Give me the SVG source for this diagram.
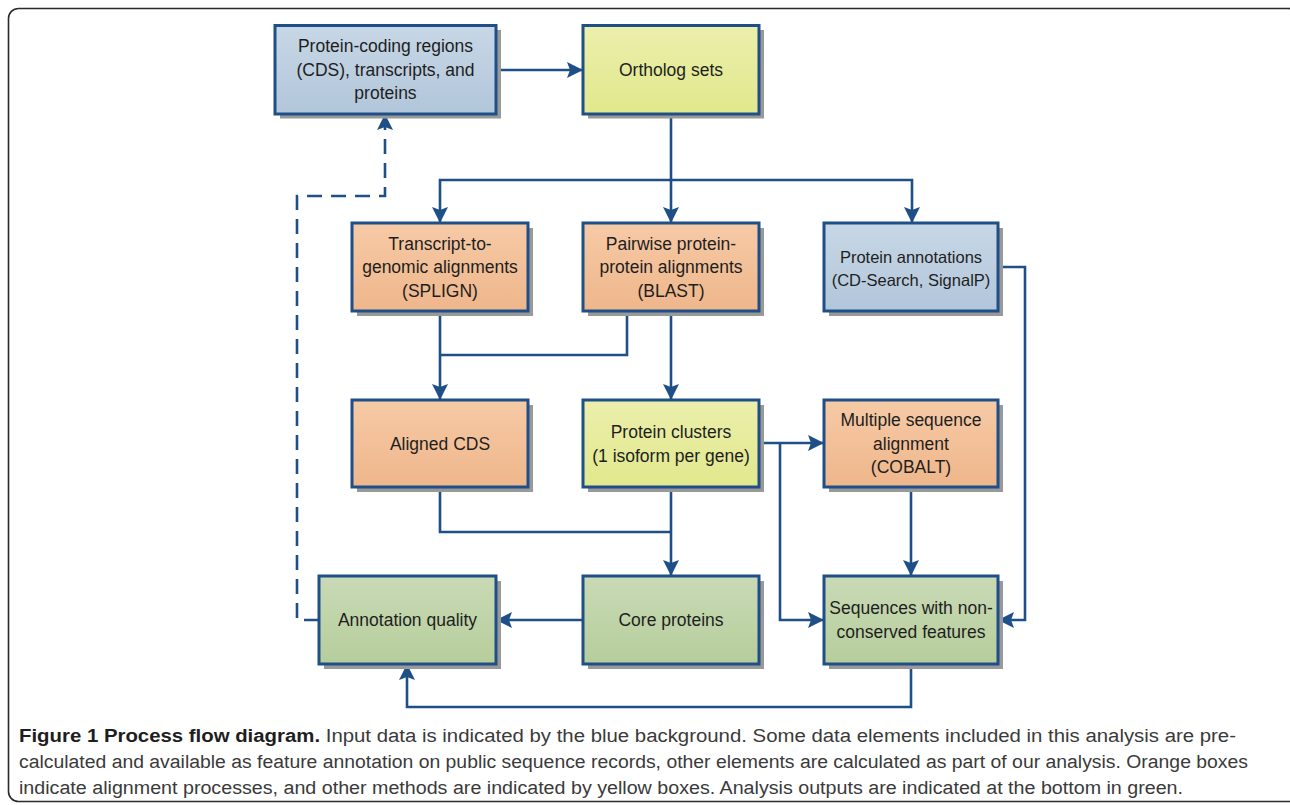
<svg xmlns="http://www.w3.org/2000/svg" width="1290" height="805" viewBox="0 0 1290 805">
<defs>
<linearGradient id="gBlue" x1="0" y1="0" x2="0" y2="1"><stop offset="0" stop-color="#c7d7e6"/><stop offset="1" stop-color="#b2c6da"/></linearGradient>
<linearGradient id="gYellow" x1="0" y1="0" x2="0" y2="1"><stop offset="0" stop-color="#ebefac"/><stop offset="1" stop-color="#e1e88c"/></linearGradient>
<linearGradient id="gOrange" x1="0" y1="0" x2="0" y2="1"><stop offset="0" stop-color="#f6caa6"/><stop offset="1" stop-color="#efb68b"/></linearGradient>
<linearGradient id="gGreen" x1="0" y1="0" x2="0" y2="1"><stop offset="0" stop-color="#c9dab6"/><stop offset="1" stop-color="#b6cd9b"/></linearGradient>
<marker id="ah" viewBox="0 0 16 16" refX="16" refY="8" markerWidth="16" markerHeight="16" orient="auto" markerUnits="userSpaceOnUse"><path d="M0,0 L16,8 L0,16 L3,8 z" fill="#1f4f87"/></marker>
</defs>
<style>
.box{stroke:#1f4f87;stroke-width:3}
.sh{fill:#999999}
.blue{fill:url(#gBlue)}
.yellow{fill:url(#gYellow)}
.orange{fill:url(#gOrange)}
.green{fill:url(#gGreen)}
.t{font-family:"Liberation Sans",Arial,sans-serif;font-size:17.5px;fill:#1e1e1e;text-anchor:middle}
.c{fill:none;stroke:#1f4f87;stroke-width:2.6}
.a{marker-end:url(#ah)}
.d{stroke-dasharray:15 9}
.cap{font-family:"Liberation Sans",Arial,sans-serif;font-size:18px;fill:#3a3a3a}
.capb{font-weight:bold;fill:#1e1e1e}
</style>
<rect x="8.5" y="8.5" width="1290" height="793" rx="10" fill="#ffffff" stroke="#2b2b2b" stroke-width="1.6"/>

<g id="connectors">
<path class="c a" d="M496,70 H583"/>
<path class="c a" d="M671,114 V223"/>
<path class="c a" d="M671,180 H440 V223"/>
<path class="c a" d="M671,180 H912 V223"/>
<path class="c a" d="M440,311 V400"/>
<path class="c" d="M627,311 V355 H440"/>
<path class="c a" d="M671,311 V400"/>
<path class="c a" d="M759,443 H824"/>
<path class="c a" d="M780,443 V620 H824"/>
<path class="c a" d="M998,267 H1025 V620 H998"/>
<path class="c a" d="M911,487 V576"/>
<path class="c" d="M440,487 V532 H671"/>
<path class="c a" d="M671,487 V576"/>
<path class="c a" d="M583,620 H496"/>
<path class="c a" d="M911,664 V707 H407 V664"/>
<path class="c a d" d="M319,620 H297 V196 H385 V114"/>
</g>

<g id="n-cds">
<rect class="sh" x="280" y="30" width="221" height="88.5"/>
<rect class="box blue" x="275" y="25.5" width="221" height="88.5"/>
<text class="t" x="385.5" y="52">Protein-coding regions</text>
<text class="t" x="385.5" y="75.5">(CDS), transcripts, and</text>
<text class="t" x="385.5" y="99">proteins</text>
</g>
<g id="n-ortholog">
<rect class="sh" x="588" y="30" width="176" height="88.5"/>
<rect class="box yellow" x="583" y="25.5" width="176" height="88.5"/>
<text class="t" x="671" y="76">Ortholog sets</text>
</g>
<g id="n-splign">
<rect class="sh" x="357" y="228" width="176" height="88"/>
<rect class="box orange" x="352" y="223" width="176" height="88"/>
<text class="t" x="440" y="249.5">Transcript-to-</text>
<text class="t" x="440" y="273">genomic alignments</text>
<text class="t" x="440" y="296.5">(SPLIGN)</text>
</g>
<g id="n-blast">
<rect class="sh" x="588" y="228" width="176" height="88"/>
<rect class="box orange" x="583" y="223" width="176" height="88"/>
<text class="t" x="671" y="249.5">Pairwise protein-</text>
<text class="t" x="671" y="273">protein alignments</text>
<text class="t" x="671" y="296.5">(BLAST)</text>
</g>
<g id="n-annot">
<rect class="sh" x="829" y="228" width="174" height="88"/>
<rect class="box blue" x="824" y="223" width="174" height="88"/>
<text class="t" x="911" y="262.5" style="font-size:16.5px">Protein annotations</text>
<text class="t" x="911" y="286" style="font-size:16.5px">(CD-Search, SignalP)</text>
</g>
<g id="n-alignedcds">
<rect class="sh" x="357" y="405" width="176" height="87"/>
<rect class="box orange" x="352" y="400" width="176" height="87"/>
<text class="t" x="440" y="449.5">Aligned CDS</text>
</g>
<g id="n-clusters">
<rect class="sh" x="588" y="405" width="176" height="87"/>
<rect class="box yellow" x="583" y="400" width="176" height="87"/>
<text class="t" x="671" y="438">Protein clusters</text>
<text class="t" x="671" y="461.5">(1 isoform per gene)</text>
</g>
<g id="n-cobalt">
<rect class="sh" x="829" y="405" width="174" height="87"/>
<rect class="box orange" x="824" y="400" width="174" height="87"/>
<text class="t" x="911" y="426">Multiple sequence</text>
<text class="t" x="911" y="449.5">alignment</text>
<text class="t" x="911" y="473">(COBALT)</text>
</g>
<g id="n-quality">
<rect class="sh" x="324" y="581" width="177" height="88"/>
<rect class="box green" x="319" y="576" width="177" height="88"/>
<text class="t" x="407.5" y="626">Annotation quality</text>
</g>
<g id="n-core">
<rect class="sh" x="588" y="581" width="176" height="88"/>
<rect class="box green" x="583" y="576" width="176" height="88"/>
<text class="t" x="671" y="626">Core proteins</text>
</g>
<g id="n-nonconserved">
<rect class="sh" x="829" y="581" width="174" height="88"/>
<rect class="box green" x="824" y="576" width="174" height="88"/>
<text class="t" x="911" y="614">Sequences with non-</text>
<text class="t" x="911" y="637.5">conserved features</text>
</g>

<g id="caption">
<text class="cap" x="19" y="742" textLength="1217" lengthAdjust="spacingAndGlyphs"><tspan class="capb">Figure 1 Process flow diagram.</tspan> Input data is indicated by the blue background. Some data elements included in this analysis are pre-</text>
<text class="cap" x="19" y="768" textLength="1229" lengthAdjust="spacingAndGlyphs">calculated and available as feature annotation on public sequence records, other elements are calculated as part of our analysis. Orange boxes</text>
<text class="cap" x="19" y="794" textLength="1164" lengthAdjust="spacingAndGlyphs">indicate alignment processes, and other methods are indicated by yellow boxes. Analysis outputs are indicated at the bottom in green.</text>
</g>
</svg>
